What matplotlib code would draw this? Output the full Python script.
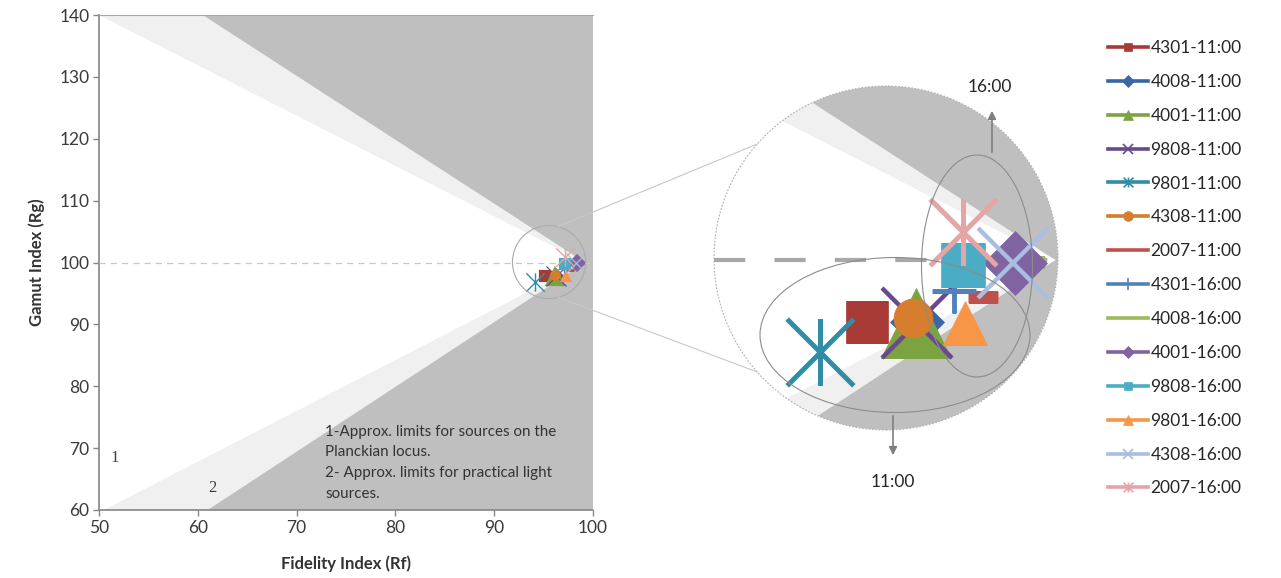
import numpy as np
import matplotlib
matplotlib.use("Agg")
import matplotlib.pyplot as plt
from matplotlib.patches import Circle, Ellipse, FancyArrowPatch
from matplotlib.lines import Line2D
from matplotlib.path import Path

plt.rcParams["font.family"] = ["Lato", "DejaVu Sans"]

W, H = 1281, 578

# measured sources: label, fidelity Rf, gamut Rg
labels = ["4301-11:00", "4008-11:00", "4001-11:00", "9808-11:00", "9801-11:00",
          "4308-11:00", "2007-11:00", "4301-16:00", "4008-16:00", "4001-16:00",
          "9808-16:00", "9801-16:00", "4308-16:00", "2007-16:00"]
rf = [95.14, 96.22, 96.20, 96.22, 94.13, 96.13, 97.64,
      97.02, 98.66, 98.33, 97.21, 97.26, 98.29, 97.21]
rg = [97.87, 97.87, 97.84, 97.84, 96.84, 98.00, 98.73,
      98.93, 99.93, 99.90, 99.83, 97.84, 99.90, 100.96]

# approximate limit lines (1: Planckian locus, 2: practical sources)
planck_rf = [50, 99.2, 50.5]
planck_rg = [140, 100, 60]
practical_rf = [60.5, 99.2, 61]
practical_rg = [140, 100, 60]

colors = ["#A83A35", "#3A66A6", "#7DA340", "#68488F", "#2F8DA6", "#D67D2E", "#C0504D",
          "#4F81BD", "#9BBB59", "#8064A2", "#4BACC6", "#F79646", "#A9BEE0", "#E3A5A6"]

star = Path([(0, -1), (0, 1), (-1, -1), (1, 1), (-1, 1), (1, -1)],
            [Path.MOVETO, Path.LINETO, Path.MOVETO, Path.LINETO, Path.MOVETO, Path.LINETO])
markers = ["s", "D", "^", "x", star, "o", "_", "+", "_", "D", "s", "^", "x", star]
# marker size / edge width in the magnified view (points)
big_ms = [30, 28, 50, 50, 48, 28, 22, 32, 22, 33, 31, 32, 50, 48]
big_ew = [0.5, 0.5, 0.5, 3.2, 3.6, 0.5, 8, 3.5, 8, 0.5, 0.5, 0.5, 3.2, 3.6]
leg_ms = [6, 6, 7, 7, 7, 7, 0, 8, 0, 6, 6, 7, 7, 7]

DARK = "#BFBFBF"
LIGHT = "#F0F0F0"
MAG = 4.7

fig = plt.figure(figsize=(W / 100, H / 100), dpi=100)

# main axes in pixel layout
ax_l, ax_r, ax_t, ax_b = 99, 593, 15, 510
ax = fig.add_axes([ax_l / W, (H - ax_b) / H, (ax_r - ax_l) / W, (ax_b - ax_t) / H])
ppx = (ax_r - ax_l) / 50.0
ppy = (ax_b - ax_t) / 80.0


def is_filled(m):
    return isinstance(m, str) and m in ("s", "D", "^", "o")


def draw_field(a, scale, dash_lw, dash_col, dashes):
    a.fill([50] + practical_rf + [50], [140] + practical_rg + [60],
           color=LIGHT, lw=0, zorder=1)
    a.fill(planck_rf + [50], planck_rg + [60], color="white", lw=0, zorder=2)
    a.axhline(100, color=dash_col, lw=dash_lw, dashes=dashes, zorder=3)
    for i in range(len(labels)):
        filled = is_filled(markers[i])
        a.plot([rf[i]], [rg[i]], ls="none", marker=markers[i], ms=big_ms[i] * scale,
               color=colors[i], mec=colors[i], mfc=colors[i] if filled else "none",
               mew=big_ew[i] * scale, zorder=5 + i)


ax.set_facecolor(DARK)
draw_field(ax, 1.3 / MAG, 0.9, "#C8C8C8", (5, 4))
ax.set_xlim(50, 100)
ax.set_ylim(60, 140)
ax.set_xticks(range(50, 101, 10))
ax.set_yticks(range(60, 141, 10))
for s in ("left", "bottom"):
    ax.spines[s].set_color("#858585")
    ax.spines[s].set_linewidth(1.2)
ax.spines["top"].set_color("#A8A8A8")
ax.spines["top"].set_linewidth(0.8)
ax.spines["right"].set_visible(False)
ax.tick_params(direction="out", length=4, width=1, color="#858585",
               labelsize=12.5, labelcolor="#3A3A3A", pad=3)
ax.set_xlabel("Fidelity Index (Rf)", fontsize=12, fontweight="bold", color="#333333", labelpad=14)
ax.set_ylabel("Gamut Index (Rg)", fontsize=12, fontweight="bold", color="#333333", labelpad=10)

ax.text(51.6, 68.4, "1", family="Liberation Serif", fontsize=12, color="#404040",
        ha="center", va="center", zorder=4)
ax.text(61.5, 63.6, "2", family="Liberation Serif", fontsize=12, color="#404040",
        ha="center", va="center", zorder=4)
ax.text(72.9, 73.8, "1-Approx. limits for sources on the\nPlanckian locus.\n"
        "2- Approx. limits for practical light\nsources.",
        fontsize=10.9, color="#333333", ha="left", va="top", linespacing=1.62, zorder=4)

# magnified view
big_c = (886, 258)
big_r = 172
half_w = big_r / (ppx * MAG)
half_h = big_r / (ppy * MAG)
cx, cy = 95.55, 100.07

ax_in = fig.add_axes([(big_c[0] - big_r) / W, (H - big_c[1] - big_r) / H,
                      2 * big_r / W, 2 * big_r / H])
ax_in.axis("off")
ax_in.add_patch(Circle((0.5, 0.5), 0.5, transform=ax_in.transAxes, fc=DARK, ec="none", zorder=0))
draw_field(ax_in, 1.0, 3.0, "#A8A8A8", (7.5, 7))
ax_in.set_xlim(cx - half_w, cx + half_w)
ax_in.set_ylim(cy - half_h, cy + half_h)
clip = Circle((0.5, 0.5), 0.5, transform=ax_in.transAxes)
for art in list(ax_in.lines) + list(ax_in.patches):
    art.set_clip_path(clip)
ax_in.add_patch(Circle((0.5, 0.5), 0.5, transform=ax_in.transAxes, fc="none", ec="#B0B0B0",
                       lw=0.8, ls=(0, (1.5, 1.5)), zorder=30, clip_on=False))

# small circle on the main chart
ax.add_patch(Ellipse((cx, cy), 2 * half_w, 2 * half_h, fc="none", ec="#ABABAB", lw=0.8, zorder=30))


def fpx(x, y):
    return x / W, 1 - y / H


sm_c = (ax_l + (cx - 50) * ppx, ax_b - (cy - 60) * ppy)
sm_r = big_r / MAG
for a_small, a_big in ((76, 138.5), (-75, -138.5)):
    x0 = sm_c[0] + sm_r * np.cos(np.radians(a_small))
    y0 = sm_c[1] - sm_r * np.sin(np.radians(a_small))
    x1 = big_c[0] + big_r * np.cos(np.radians(a_big))
    y1 = big_c[1] - big_r * np.sin(np.radians(a_big))
    p0, p1 = fpx(x0, y0), fpx(x1, y1)
    fig.add_artist(Line2D([p0[0], p1[0]], [p0[1], p1[1]], transform=fig.transFigure,
                          color="#C8C8C8", lw=0.8))

# time-of-day groups
for (ex, ey, ew, eh) in ((977, 266, 111, 222), (895, 335, 270, 155)):
    fig.add_artist(Ellipse(fpx(ex, ey), ew / W, eh / H, transform=fig.transFigure,
                           fc="none", ec="#8C8C8C", lw=0.8, zorder=40))
for (x, y0, y1) in ((992, 155, 108), (893, 413, 458)):
    fig.add_artist(FancyArrowPatch(fpx(x, y0), fpx(x, y1), transform=fig.transFigure,
                                   arrowstyle="-|>", mutation_scale=12, color="#7F7F7F",
                                   lw=1.2, zorder=40))
fig.text(*fpx(990, 87), "16:00", fontsize=12.5, color="#262626", ha="center", va="center")
fig.text(*fpx(893, 482), "11:00", fontsize=12.5, color="#262626", ha="center", va="center")

handles = []
for i in range(len(labels)):
    filled = is_filled(markers[i])
    handles.append(Line2D([], [], color=colors[i], lw=2.6, marker=markers[i], ms=leg_ms[i],
                          mec=colors[i], mfc=colors[i] if filled else "none",
                          mew=1.2 if not filled else 0.5))
fig.legend(handles, labels, loc="upper left", bbox_to_anchor=fpx(1108, 40), frameon=False,
           fontsize=12.5, handlelength=2.3, handletextpad=0.15, labelspacing=1.03,
           borderaxespad=0, borderpad=0, labelcolor="#262626")

fig.savefig("out.png", dpi=100)
